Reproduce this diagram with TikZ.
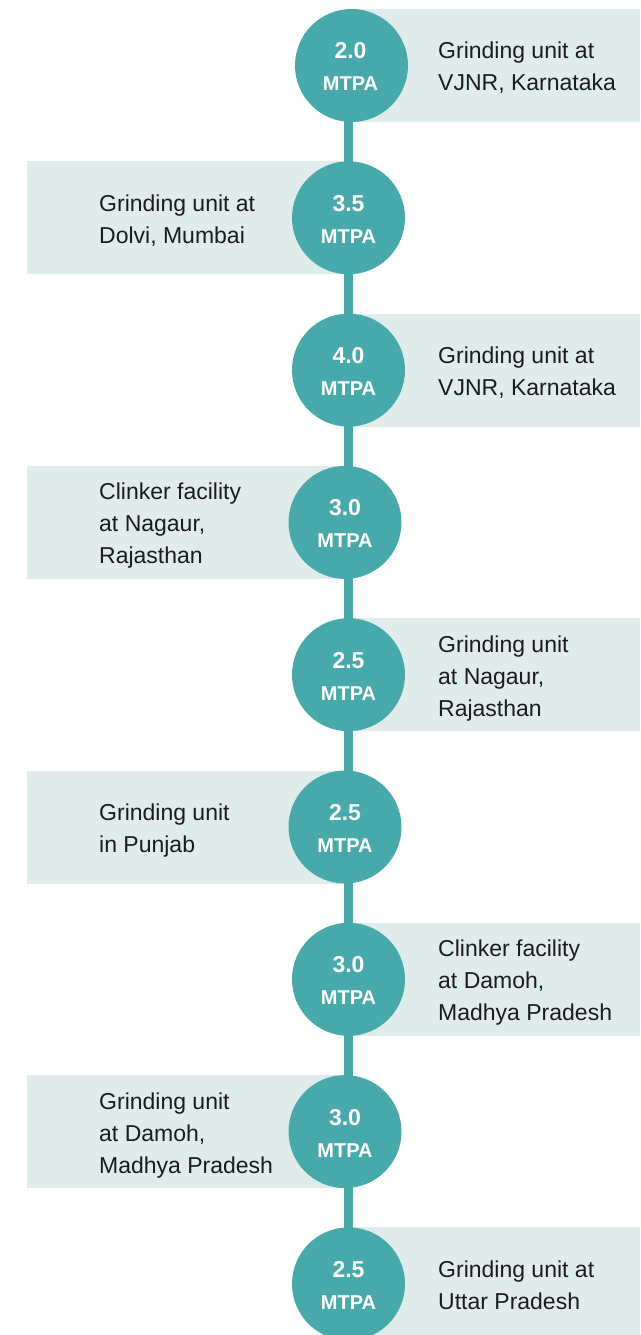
\documentclass[tikz,border=0pt]{standalone}
\usepackage{fontspec}
\setmainfont{Liberation Sans}
\usetikzlibrary{calc}

\definecolor{tealmark}{HTML}{47A9A9}
\definecolor{bandfill}{HTML}{E0ECEC}
\definecolor{ink}{HTML}{1C1C1C}

% capacity figure inside a disc: number over unit
\newcommand\capfig[1]{\parbox[t]{80pt}{\centering\bfseries
  \fontsize{23}{32}\selectfont #1\\\fontsize{20}{32}\selectfont MTPA}}
% description text beside a disc
\newcommand\sitetext[1]{\parbox[t]{220pt}{\raggedright
  \fontsize{23}{32}\selectfont #1}}

\tikzset{
  band/.style={fill=bandfill, draw=none},
  disc/.style={circle, fill=tealmark, draw=none, minimum size=113pt, inner sep=0pt},
  spine/.style={draw=tealmark, line width=8.5pt},
  figtxt/.style={text=white, inner sep=0pt, anchor=base},
  desctxt/.style={text=ink, inner sep=0pt, anchor=base west},
}

\begin{document}
\begin{tikzpicture}[x=1pt, y=-1pt]
  \useasboundingbox (0,0) rectangle (640,1335);
  \clip (0,0) rectangle (640,1335);

  % background bands (right side: odd rows, left side: even rows)
  \fill[band] (351.5,  9.0) rectangle (640, 122.0);
  \fill[band] (27,   161.3) rectangle (348.5, 274.3);
  \fill[band] (348.5,313.6) rectangle (640, 426.6);
  \fill[band] (27,   465.9) rectangle (345, 578.9);
  \fill[band] (348.5,618.2) rectangle (640, 731.2);
  \fill[band] (27,   770.5) rectangle (345, 883.5);
  \fill[band] (348.5,922.8) rectangle (640,1035.8);
  \fill[band] (27,  1075.1) rectangle (345,1188.1);
  \fill[band] (348.5,1227.4) rectangle (640,1340.4);

  % timeline spine
  \coordinate (spinetop) at (348.5, 65.5);
  \coordinate (spinebot) at (348.5, 1340);
  \draw[spine] (spinetop) -- (spinebot);

  % discs
  \node[disc] (c1) at (351.5,  65.5) {};
  \node[disc] (c2) at (348.5, 217.8) {};
  \node[disc] (c3) at (348.5, 370.1) {};
  \node[disc] (c4) at (345,   522.4) {};
  \node[disc] (c5) at (348.5, 674.7) {};
  \node[disc] (c6) at (345,   827.0) {};
  \node[disc] (c7) at (348.5, 979.3) {};
  \node[disc] (c8) at (345,  1131.6) {};
  \node[disc] (c9) at (348.5,1283.9) {};

  % capacity figures
  \node[figtxt] (f1) at ($(c1)+(-1,-6.5)$) {\capfig{2.0}};
  \node[figtxt] (f2) at ($(c2)+(0,-6.5)$) {\capfig{3.5}};
  \node[figtxt] (f3) at ($(c3)+(0,-6.5)$) {\capfig{4.0}};
  \node[figtxt] (f4) at ($(c4)+(0,-6.5)$) {\capfig{3.0}};
  \node[figtxt] (f5) at ($(c5)+(0,-6.5)$) {\capfig{2.5}};
  \node[figtxt] (f6) at ($(c6)+(0,-6.5)$) {\capfig{2.5}};
  \node[figtxt] (f7) at ($(c7)+(0,-6.5)$) {\capfig{3.0}};
  \node[figtxt] (f8) at ($(c8)+(0,-6.5)$) {\capfig{3.0}};
  \node[figtxt] (f9) at ($(c9)+(0,-6.5)$) {\capfig{2.5}};

  % site descriptions
  \node[desctxt] (s1) at (438,  59.0) {\sitetext{Grinding unit at\\VJNR, Karnataka}};
  \node[desctxt] (s2) at (99,  211.3) {\sitetext{Grinding unit at\\Dolvi, Mumbai}};
  \node[desctxt] (s3) at (438, 363.6) {\sitetext{Grinding unit at\\VJNR, Karnataka}};
  \node[desctxt] (s4) at (99,  499.9) {\sitetext{Clinker facility\\at Nagaur,\\Rajasthan}};
  \node[desctxt] (s5) at (438, 652.2) {\sitetext{Grinding unit\\at Nagaur,\\Rajasthan}};
  \node[desctxt] (s6) at (99,  820.5) {\sitetext{Grinding unit\\in Punjab}};
  \node[desctxt] (s7) at (438, 956.8) {\sitetext{Clinker facility\\at Damoh,\\Madhya Pradesh}};
  \node[desctxt] (s8) at (99, 1109.1) {\sitetext{Grinding unit\\at Damoh,\\Madhya Pradesh}};
  \node[desctxt] (s9) at (438,1277.4) {\sitetext{Grinding unit at\\Uttar Pradesh}};
\end{tikzpicture}
\end{document}
